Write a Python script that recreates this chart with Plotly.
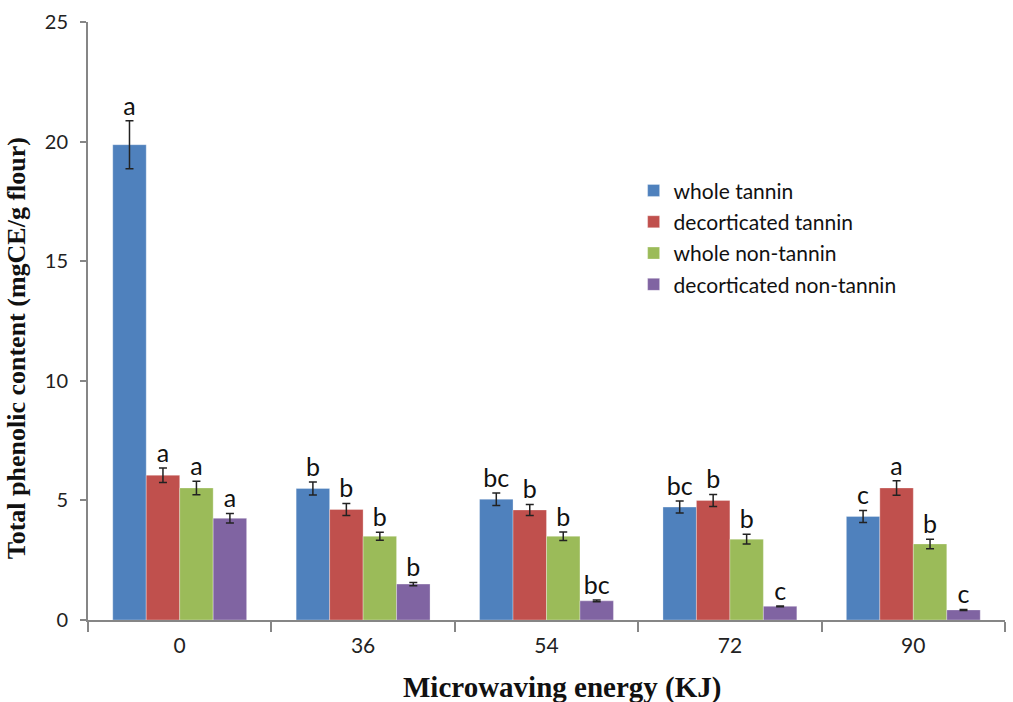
import plotly.graph_objects as go

categories = ["0", "36", "54", "72", "90"]
series_names = ["whole tannin", "decorticated tannin", "whole non-tannin", "decorticated non-tannin"]
whole_tannin = [19.87, 5.5, 5.05, 4.72, 4.33]
decort_tannin = [6.05, 4.62, 4.6, 5.0, 5.52]
whole_nontannin = [5.52, 3.5, 3.5, 3.38, 3.18]
decort_nontannin = [4.25, 1.5, 0.8, 0.57, 0.42]
err_whole_tannin = [1.0, 0.27, 0.26, 0.25, 0.25]
err_decort_tannin = [0.3, 0.25, 0.23, 0.25, 0.3]
err_whole_nontannin = [0.28, 0.17, 0.18, 0.2, 0.2]
err_decort_nontannin = [0.2, 0.07, 0.04, 0.02, 0.02]
letters_whole_tannin = ["a", "b", "bc", "bc", "c"]
letters_decort_tannin = ["a", "b", "b", "b", "a"]
letters_whole_nontannin = ["a", "b", "b", "b", "b"]
letters_decort_nontannin = ["a", "b", "bc", "c", "c"]
x_title = "Microwaving energy (KJ)"
y_title = "Total phenolic content (mgCE/g flour)"

colors = ["#4F81BD", "#C0504D", "#9BBB59", "#8064A2"]
values = [whole_tannin, decort_tannin, whole_nontannin, decort_nontannin]
errors = [err_whole_tannin, err_decort_tannin, err_whole_nontannin, err_decort_nontannin]
letters = [letters_whole_tannin, letters_decort_tannin, letters_whole_nontannin, letters_decort_nontannin]

fig = go.Figure()
for i, name in enumerate(series_names):
    fig.add_trace(go.Bar(
        x=categories, y=values[i], name=name, legendgroup=str(i),
        marker=dict(color=colors[i], line=dict(color="rgba(255,255,255,0.6)", width=0.5)),
        error_y=dict(type="data", array=errors[i], color="#222222", thickness=1.5, width=4),
        offsetgroup=str(i),
    ))
for i, name in enumerate(series_names):
    fig.add_trace(go.Scatter(
        x=categories, y=[v + e for v, e in zip(values[i], errors[i])],
        mode="text", text=letters[i], textposition="top center",
        textfont=dict(family="Lato, Open Sans, sans-serif", size=25, color="#111111"),
        offsetgroup=str(i), showlegend=False, hoverinfo="skip", cliponaxis=False,
    ))

fig.update_layout(
    width=1013, height=702,
    barmode="group", bargap=0.27, bargroupgap=0,
    scattermode="group", scattergap=0.27,
    plot_bgcolor="white", paper_bgcolor="white",
    margin=dict(l=88, r=8, t=22, b=82),
    font=dict(family="Lato, Open Sans, sans-serif", color="#222222"),
    legend=dict(x=0.595, y=0.752, xanchor="left", yanchor="top",
                font=dict(size=21, family="Lato, Open Sans, sans-serif", color="#111111"),
                bgcolor="rgba(0,0,0,0)", itemwidth=30, tracegroupgap=1),
    xaxis=dict(
        type="category", showline=True, linecolor="#868686", linewidth=2,
        ticks="outside", tickson="boundaries", ticklen=10, tickcolor="#868686", tickwidth=2,
        ticklabelstandoff=6,
        tickfont=dict(size=21, family="Lato, Open Sans, sans-serif", color="#222222"),
        showgrid=False, zeroline=False,
    ),
    yaxis=dict(
        range=[0, 25], dtick=5, showline=True, linecolor="#868686", linewidth=2,
        ticks="outside", ticklen=6, tickcolor="#868686", tickwidth=2, ticklabelstandoff=8,
        tickfont=dict(size=20, family="Lato, Open Sans, sans-serif", color="#222222"),
        showgrid=False, zeroline=False,
    ),
    annotations=[
        dict(text="<b>" + x_title + "</b>", xref="paper", yref="paper",
             x=0.517, y=-0.113, xanchor="center", yanchor="middle", showarrow=False,
             font=dict(family="Liberation Serif, Times New Roman, serif", size=29, color="#111111")),
        dict(text="<b>" + y_title + "</b>", xref="paper", yref="paper", textangle=-90,
             x=-0.077, y=0.455, xanchor="center", yanchor="middle", showarrow=False,
             font=dict(family="Liberation Serif, Times New Roman, serif", size=26, color="#111111")),
    ],
)

fig.write_html("out.html")
